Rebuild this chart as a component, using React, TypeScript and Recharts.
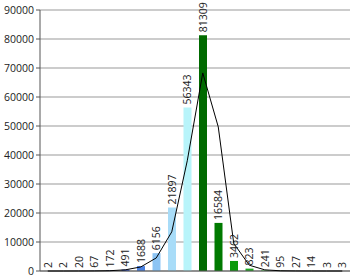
import { ComposedChart, Bar, Line, XAxis, YAxis, CartesianGrid, LabelList, Cell, ReferenceLine } from "recharts"

const bins = ["b1", "b2", "b3", "b4", "b5", "b6", "b7", "b8", "b9", "b10", "b11", "b12", "b13", "b14", "b15", "b16", "b17", "b18", "b19", "b20"]
const counts = [2, 2, 20, 67, 172, 491, 1688, 6156, 21897, 56343, 81309, 16584, 3462, 823, 241, 95, 27, 14, 3, 3]
const fitted = [0, 0, 10, 30, 100, 400, 1400, 4500, 13500, 38000, 68300, 49700, 9500, 2000, 400, 80, 20, 5, 0, 0]
const barColors = [
  "#e070e0", "#d080e0", "#9080d8", "#6070d0", "#4060c8", "#3050c0", "#4a80e0", "#8cc4f4",
  "#a8dcf8", "#b8f4fa", "#006a00", "#007a00", "#0a9a0a", "#20aa20", "#50c050", "#70c870",
  "#90d070", "#b0d870", "#d0e070", "#e0e080",
]
const yTicks = [0, 10000, 20000, 30000, 40000, 50000, 60000, 70000, 80000, 90000]

const data = bins.map((b, i) => ({ bin: b, count: counts[i], fit: fitted[i] }))

function VerticalLabel(props: any) {
  const { x, y, width, value } = props
  const cx = Number(x) + Number(width) / 2
  const ty = Number(y) - 3
  return (
    <text
      x={cx}
      y={ty}
      transform={`rotate(-90 ${cx} ${ty})`}
      dy={4}
      fontSize={10.5}
      fontFamily="'Open Sans', sans-serif"
      fill="#222"
      textAnchor="start"
    >
      {value}
    </text>
  )
}

export default function App() {
  return (
    <div style={{ position: "absolute", left: 0, top: 0, background: "#fff" }}>
      <ComposedChart width={355} height={277} data={data} margin={{ top: 10, right: 5, bottom: 6, left: 0 }}>
        <CartesianGrid vertical={false} stroke="#9a9a9a" strokeWidth={1.2} />
        <XAxis dataKey="bin" hide />
        <YAxis
          width={40}
          domain={[0, 90000]}
          ticks={yTicks}
          tickSize={4}
          tickLine={{ stroke: "#555" }}
          axisLine={{ stroke: "#555" }}
          tick={{ fontSize: 10.5, fill: "#222", fontFamily: "'Open Sans', sans-serif" }}
        />
        <ReferenceLine y={0} stroke="#555" />
        <Bar dataKey="count" fill="#4a80e0" barSize={8} isAnimationActive={false}>
          {data.map((d, i) => (
            <Cell key={d.bin} fill={barColors[i]} />
          ))}
          <LabelList dataKey="count" content={VerticalLabel} />
        </Bar>
        <Line dataKey="fit" type="linear" stroke="#000" strokeWidth={1} dot={false} isAnimationActive={false} />
      </ComposedChart>
    </div>
  )
}
